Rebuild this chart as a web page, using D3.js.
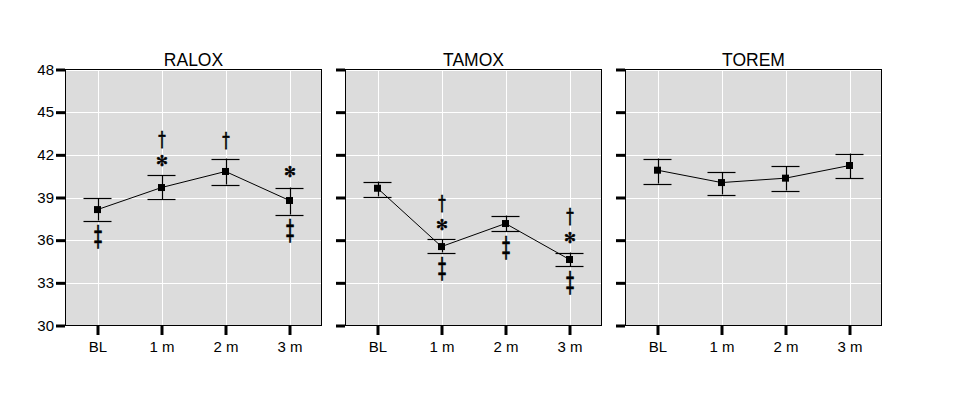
<!DOCTYPE html>
<html>
<head>
<meta charset="utf-8">
<script src="https://cdn.jsdelivr.net/npm/d3@7"></script>
<style>
  html, body { margin: 0; padding: 0; background: #ffffff; }
  svg { display: block; }
</style>
</head>
<body>
<svg id="chart" width="955" height="397"></svg>
<script>
// ---- data ----
const panelNames = ["RALOX", "TAMOX", "TOREM"];
const categories = ["BL", "1 m", "2 m", "3 m"];
const yTicks = [30, 33, 36, 39, 42, 45, 48];

const raloxMean  = [38.15, 39.70, 40.83, 38.79];
const raloxUpper = [38.93, 40.55, 41.74, 39.70];
const raloxLower = [37.38, 38.86, 39.91, 37.80];

const tamoxMean  = [39.65, 35.55, 37.17, 34.64];
const tamoxUpper = [40.12, 36.05, 37.73, 35.13];
const tamoxLower = [39.07, 35.13, 36.61, 34.15];

const toremMean  = [40.92, 40.05, 40.36, 41.25];
const toremUpper = [41.74, 40.80, 41.18, 42.09];
const toremLower = [39.98, 39.21, 39.49, 40.36];

// significance symbols: [category, symbol, value-position]
const raloxMarks = [["1 m", "†", 43.10], ["1 m", "✻", 41.62], ["2 m", "†", 43.03],
                    ["3 m", "✻", 40.85], ["BL", "‡", 36.28], ["3 m", "‡", 36.70]];
const tamoxMarks = [["1 m", "†", 38.60], ["1 m", "✻", 37.14], ["1 m", "‡", 34.03],
                    ["2 m", "‡", 35.50],
                    ["3 m", "†", 37.68], ["3 m", "✻", 36.23], ["3 m", "‡", 33.04]];
const toremMarks = [];

const panelMeans  = [raloxMean, tamoxMean, toremMean];
const panelUppers = [raloxUpper, tamoxUpper, toremUpper];
const panelLowers = [raloxLower, tamoxLower, toremLower];
const panelMarks  = [raloxMarks, tamoxMarks, toremMarks];

// ---- layout ----
(function () {
const svg = d3.select("#chart");
const font = "'Liberation Sans', Arial, sans-serif";
const panelW = 256, panelH = 256, panelTop = 69.5;
const lefts = [65.5, 345.5, 625.5];
const symStyle = {
  "†": { size: 15, sx: 1.0, sy: 1.4 },
  "‡": { size: 19, sx: 0.85, sy: 1.45 },
  "✻": { size: 13, sx: 1.1, sy: 1.15 }
};

const y = d3.scaleLinear().domain([30, 48]).range([panelTop + panelH, panelTop]);

panelNames.forEach((name, p) => {
  const left = lefts[p];
  const x = d3.scalePoint().domain(categories).range([left, left + panelW]).padding(0.5);
  const g = svg.append("g");

  g.append("rect")
    .attr("x", left).attr("y", panelTop).attr("width", panelW).attr("height", panelH)
    .attr("fill", "#dcdcdc");

  g.selectAll(".hg").data(yTicks).join("line")
    .attr("x1", left).attr("x2", left + panelW)
    .attr("y1", d => Math.round(y(d)) + 0.5).attr("y2", d => Math.round(y(d)) + 0.5)
    .attr("stroke", "#ffffff").attr("stroke-width", 1);
  g.selectAll(".vg").data(categories).join("line")
    .attr("x1", d => Math.round(x(d)) + 0.5).attr("x2", d => Math.round(x(d)) + 0.5)
    .attr("y1", panelTop).attr("y2", panelTop + panelH)
    .attr("stroke", "#ffffff").attr("stroke-width", 1);

  g.append("rect")
    .attr("x", left).attr("y", panelTop).attr("width", panelW).attr("height", panelH)
    .attr("fill", "none").attr("stroke", "#000000").attr("stroke-width", 1);

  const yAxis = d3.axisLeft(y).tickValues(yTicks).tickSize(9).tickPadding(2)
    .tickFormat(p === 0 ? d3.format("d") : () => "");
  const ya = g.append("g").attr("transform", `translate(${left - 0.5},0)`).call(yAxis);
  ya.select(".domain").remove();
  ya.selectAll(".tick line").attr("stroke", "#000").attr("stroke-width", 3);
  ya.selectAll(".tick text").attr("font-family", font).attr("font-size", 15).attr("fill", "#000");

  const xAxis = d3.axisBottom(x).tickSize(9).tickPadding(6);
  const xa = g.append("g").attr("transform", `translate(0,${panelTop + panelH + 0.5})`).call(xAxis);
  xa.select(".domain").remove();
  xa.selectAll(".tick line").attr("stroke", "#000").attr("stroke-width", 3);
  xa.selectAll(".tick text").attr("font-family", font).attr("font-size", 15).attr("fill", "#000");

  g.append("text")
    .attr("x", left + panelW / 2).attr("y", 66)
    .attr("text-anchor", "middle")
    .attr("font-family", font).attr("font-size", 17.5).attr("fill", "#000")
    .text(name);

  const rows = categories.map((c, i) => ({
    c, m: panelMeans[p][i], hi: panelUppers[p][i], lo: panelLowers[p][i]
  }));

  g.append("path")
    .datum(rows)
    .attr("d", d3.line().x(d => x(d.c)).y(d => y(d.m)))
    .attr("fill", "none").attr("stroke", "#000").attr("stroke-width", 1);

  const eb = g.selectAll(".eb").data(rows).join("g");
  eb.append("line")
    .attr("x1", d => Math.round(x(d.c)) + 0.5).attr("x2", d => Math.round(x(d.c)) + 0.5)
    .attr("y1", d => y(d.hi)).attr("y2", d => y(d.lo))
    .attr("stroke", "#000").attr("stroke-width", 1.2);
  eb.append("line")
    .attr("x1", d => x(d.c) - 14).attr("x2", d => x(d.c) + 14)
    .attr("y1", d => Math.round(y(d.hi)) + 0.5).attr("y2", d => Math.round(y(d.hi)) + 0.5)
    .attr("stroke", "#000").attr("stroke-width", 1.2);
  eb.append("line")
    .attr("x1", d => x(d.c) - 14).attr("x2", d => x(d.c) + 14)
    .attr("y1", d => Math.round(y(d.lo)) + 0.5).attr("y2", d => Math.round(y(d.lo)) + 0.5)
    .attr("stroke", "#000").attr("stroke-width", 1.2);

  g.selectAll(".mk").data(rows).join("rect")
    .attr("x", d => x(d.c) - 3.5).attr("y", d => y(d.m) - 3.5)
    .attr("width", 7).attr("height", 7)
    .attr("fill", "#000");

  g.selectAll(".sig").data(panelMarks[p]).join("text")
    .attr("transform", d => {
      const s = symStyle[d[1]];
      return `translate(${x(d[0]) + 0.5},${y(d[2])}) scale(${s.sx},${s.sy})`;
    })
    .attr("text-anchor", "middle")
    .attr("dominant-baseline", "central")
    .attr("font-family", "'DejaVu Sans'")
    .attr("font-size", d => symStyle[d[1]].size)
    .attr("fill", "#000")
    .attr("stroke", "#000").attr("stroke-width", 0.5)
    .text(d => d[1] + "\uFE0E");
});
})();
</script>
</body>
</html>
